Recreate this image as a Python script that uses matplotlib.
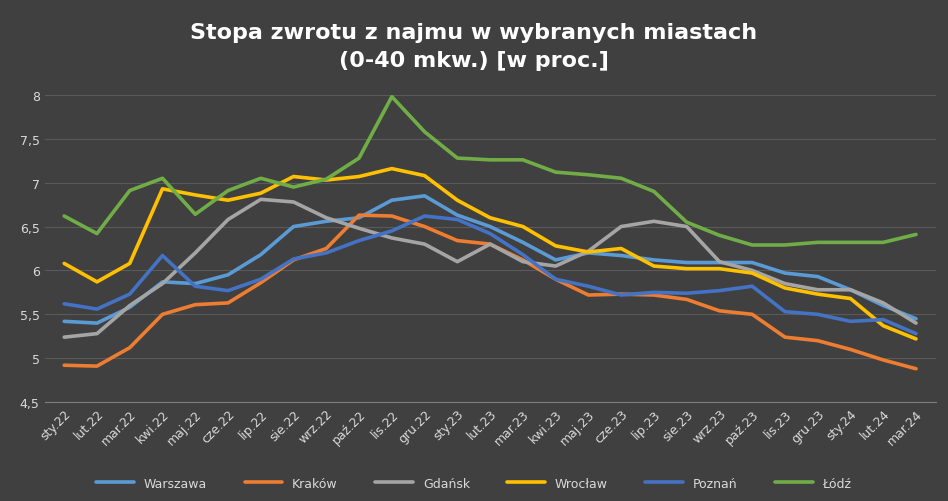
import matplotlib
matplotlib.use("Agg")
import matplotlib.pyplot as plt

months = ["sty.22","lut.22","mar.22","kwi.22","maj.22","cze.22","lip.22","sie.22","wrz.22","paź.22","lis.22","gru.22",
          "sty.23","lut.23","mar.23","kwi.23","maj.23","cze.23","lip.23","sie.23","wrz.23","paź.23","lis.23","gru.23",
          "sty.24","lut.24","mar.24"]
warszawa = [5.42,5.40,5.58,5.87,5.85,5.95,6.18,6.50,6.56,6.60,6.80,6.85,6.63,6.50,6.32,6.12,6.20,6.17,6.12,6.09,6.09,6.09,5.97,5.93,5.78,5.60,5.45]
krakow = [4.92,4.91,5.12,5.50,5.61,5.63,5.86,6.12,6.25,6.63,6.62,6.50,6.34,6.30,6.12,5.90,5.72,5.73,5.72,5.67,5.54,5.50,5.24,5.20,5.10,4.98,4.88]
gdansk = [5.24,5.28,5.60,5.85,6.20,6.58,6.81,6.78,6.60,6.48,6.37,6.30,6.10,6.30,6.10,6.05,6.22,6.50,6.56,6.50,6.10,6.00,5.85,5.78,5.78,5.63,5.40]
wroclaw = [6.08,5.87,6.08,6.93,6.86,6.80,6.88,7.07,7.03,7.07,7.16,7.08,6.80,6.60,6.50,6.28,6.21,6.25,6.05,6.02,6.02,5.97,5.80,5.73,5.68,5.37,5.22]
poznan = [5.62,5.56,5.73,6.17,5.82,5.77,5.90,6.13,6.20,6.34,6.45,6.62,6.58,6.42,6.18,5.90,5.82,5.72,5.75,5.74,5.77,5.82,5.53,5.50,5.42,5.44,5.28]
lodz = [6.62,6.42,6.91,7.05,6.64,6.91,7.05,6.95,7.04,7.28,7.98,7.58,7.28,7.26,7.26,7.12,7.09,7.05,6.90,6.55,6.40,6.29,6.29,6.32,6.32,6.32,6.41]

series = [("Warszawa", warszawa, "#5B9BD5"), ("Kraków", krakow, "#ED7D31"), ("Gdańsk", gdansk, "#A5A5A5"),
          ("Wrocław", wroclaw, "#FFC000"), ("Poznań", poznan, "#4472C4"), ("Łódź", lodz, "#70AD47")]

bg = "#404040"
fig = plt.figure(figsize=(9.48, 5.02), dpi=100, facecolor=bg)
ax = fig.add_axes([0.047, 0.197, 0.94, 0.612], facecolor=bg)
x = range(len(months))
for name, vals, c in series:
    ax.plot(x, vals, color=c, lw=2.6, label=name, solid_capstyle="round")
ax.set_ylim(4.5, 8)
ax.set_xlim(-0.6, len(months) - 0.4)
ax.set_yticks([4.5,5,5.5,6,6.5,7,7.5,8])
ax.set_yticklabels(["4,5","5","5,5","6","6,5","7","7,5","8"])
ax.set_xticks(list(x))
ax.set_xticklabels(months, rotation=45, ha="right", rotation_mode="anchor")
ax.tick_params(colors="#D9D9D9", labelsize=9, length=0)
ax.grid(axis="y", color="#5A5A5A", lw=0.8)
for s in ax.spines.values():
    s.set_visible(False)
ax.spines["bottom"].set_visible(True)
ax.spines["bottom"].set_color("#7F7F7F")
fig.text(0.5, 0.955, "Stopa zwrotu z najmu w wybranych miastach\n(0-40 mkw.) [w proc.]", ha="center", va="top",
         color="white", fontsize=16, fontweight="bold", linespacing=1.5)
fig.legend(loc="lower center", ncol=6, frameon=False, bbox_to_anchor=(0.5, 0.0),
           labelcolor="#D9D9D9", fontsize=9, handlelength=3, columnspacing=3)
fig.savefig("out.png", dpi=100, facecolor=bg)
